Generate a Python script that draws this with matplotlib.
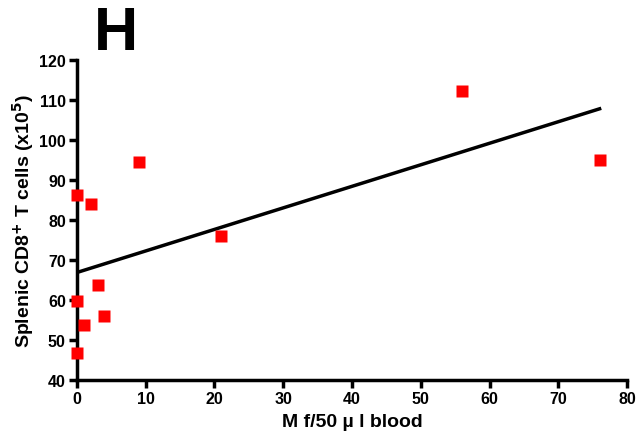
import numpy as np
import matplotlib
matplotlib.use("Agg")
import matplotlib.pyplot as plt

# === Data ===
mf_per_50ul = [0, 0, 0, 1, 2, 3, 4, 9, 21, 56, 76]
cd8_cells = [86.3, 59.8, 46.8, 53.7, 84.0, 63.8, 56.1, 94.5, 76.0, 112.3, 95.1]

x_ticks = [0, 10, 20, 30, 40, 50, 60, 70, 80]
y_ticks = [40, 50, 60, 70, 80, 90, 100, 110, 120]

plt.rcParams["font.family"] = ["Liberation Sans", "DejaVu Sans"]
plt.rcParams["font.weight"] = "bold"
plt.rcParams["mathtext.default"] = "bf"

fig = plt.figure(figsize=(6.36, 4.39), dpi=100)
ax = fig.add_axes([0.121, 0.132, 0.865, 0.729])

# === Linear regression line ===
slope, intercept = np.polyfit(mf_per_50ul, cd8_cells, 1)
x_fit = np.array([0, max(mf_per_50ul)])
ax.plot(x_fit, intercept + slope * x_fit, color="black", lw=2.5, zorder=2)

ax.plot(mf_per_50ul, cd8_cells, "s", color="#ff0000", ms=8, mec="none",
        clip_on=False, zorder=3)

ax.set_xlim(0, 80)
ax.set_ylim(40, 120)
ax.set_xticks(x_ticks)
ax.set_yticks(y_ticks)

for side in ["top", "right"]:
    ax.spines[side].set_visible(False)
for side in ["left", "bottom"]:
    ax.spines[side].set_linewidth(2.5)
ax.tick_params(width=2.5, length=6, labelsize=11.5, pad=2)
for lbl in ax.get_xticklabels() + ax.get_yticklabels():
    lbl.set_fontweight("bold")

ax.set_xlabel("M f/50 µ l blood", fontsize=14, fontweight="bold", labelpad=5)
ax.set_ylabel("Splenic CD8$^{\\mathbf{+}}$ T cells (x10$^{\\mathbf{5}}$)",
              fontsize=14, fontweight="bold", labelpad=2)

fig.text(0.183, 0.922, "H", fontsize=44, fontweight="bold", ha="center", va="center")

plt.savefig("out.png", dpi=100)
